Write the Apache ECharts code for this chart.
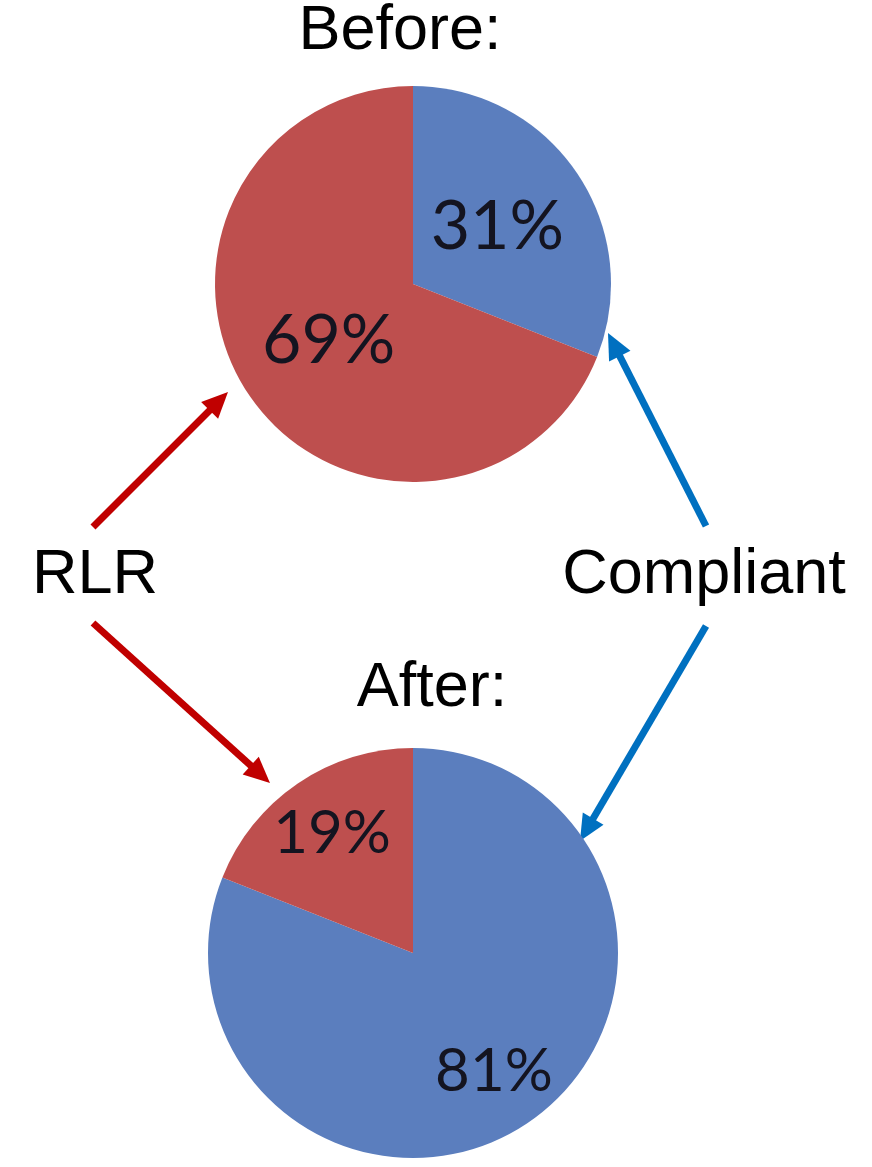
<!DOCTYPE html>
<html>
<head>
<meta charset="utf-8">
<style>
  html, body { margin: 0; padding: 0; background: #ffffff; }
  #chart { width: 872px; height: 1167px; }
</style>
<script src="https://cdn.jsdelivr.net/npm/echarts@6/dist/echarts.min.js"></script>
</head>
<body>
<div id="chart"></div>
<script>
// Share of cases by category, before and after
const categories = ['Compliant', 'RLR'];
const beforeValues = [31, 69];
const afterValues = [81, 19];
const sliceColors = ['#5b7ebe', '#be4f4e'];

const chart = echarts.init(document.getElementById('chart'), null, { renderer: 'canvas' });

function pieData(values) {
  return categories.map((name, i) => ({
    name: name,
    value: values[i],
    itemStyle: { color: sliceColors[i] }
  }));
}

const labelFont = {
  fontFamily: 'Lato, "Open Sans", sans-serif',
  color: '#141420',
  fontWeight: 'normal'
};

// Straight arrow with a filled triangular head, from (x1,y1) to the tip (x2,y2)
function arrow(x1, y1, x2, y2, color) {
  const dx = x2 - x1, dy = y2 - y1;
  const len = Math.sqrt(dx * dx + dy * dy);
  const ux = dx / len, uy = dy / len;
  const headLen = 26, headHalf = 12;
  const bx = x2 - ux * headLen, by = y2 - uy * headLen;
  return [
    {
      type: 'line',
      shape: { x1: x1, y1: y1, x2: bx + ux * 2, y2: by + uy * 2 },
      style: { stroke: color, lineWidth: 7 },
      silent: true
    },
    {
      type: 'polygon',
      shape: {
        points: [
          [x2, y2],
          [bx - uy * headHalf, by + ux * headHalf],
          [bx + uy * headHalf, by - ux * headHalf]
        ]
      },
      style: { fill: color },
      silent: true
    }
  ];
}

function textEl(text, x, y) {
  return {
    type: 'text',
    x: x,
    y: y,
    style: {
      text: text,
      fontFamily: '"Liberation Sans", Arial, sans-serif',
      fontSize: 63,
      fill: '#000000',
      align: 'center',
      verticalAlign: 'middle'
    },
    silent: true
  };
}

const red = '#c00000';
const blue = '#0070c0';

chart.setOption({
  animation: false,
  backgroundColor: '#ffffff',
  series: [
    {
      name: 'Before',
      type: 'pie',
      center: [413, 284],
      radius: [0, 198],
      startAngle: 90,
      clockwise: true,
      silent: true,
      data: pieData(beforeValues),
      label: Object.assign({
        show: true,
        position: 'inside',
        fontSize: 68,
        formatter: '{c}%'
      }, labelFont),
      labelLine: { show: false },
      itemStyle: { borderWidth: 0 }
    },
    {
      name: 'After',
      type: 'pie',
      center: [413, 953],
      radius: [0, 205],
      startAngle: 90,
      clockwise: true,
      silent: true,
      data: pieData(afterValues),
      label: { show: false },
      labelLine: { show: false },
      itemStyle: { borderWidth: 0 }
    },
    {
      // label ring for the lower pie, placing values further out from the centre
      name: 'After labels',
      type: 'pie',
      center: [413, 953],
      radius: [77, 205],
      startAngle: 90,
      clockwise: true,
      silent: true,
      data: categories.map((name, i) => ({ name: name, value: afterValues[i] })),
      itemStyle: { color: 'rgba(0,0,0,0)', borderWidth: 0 },
      label: Object.assign({
        show: true,
        position: 'inside',
        fontSize: 60,
        formatter: '{c}%'
      }, labelFont),
      labelLine: { show: false }
    }
  ],
  graphic: [
    textEl('Before:', 400, 32),
    textEl('After:', 432, 689),
    textEl('RLR', 95, 576),
    textEl('Compliant', 704, 576)
  ]
    .concat(arrow(93, 527, 228, 392, red))
    .concat(arrow(93, 623, 270, 783, red))
    .concat(arrow(706, 526, 608, 333, blue))
    .concat(arrow(706, 626, 580, 841, blue))
});
</script>
</body>
</html>
